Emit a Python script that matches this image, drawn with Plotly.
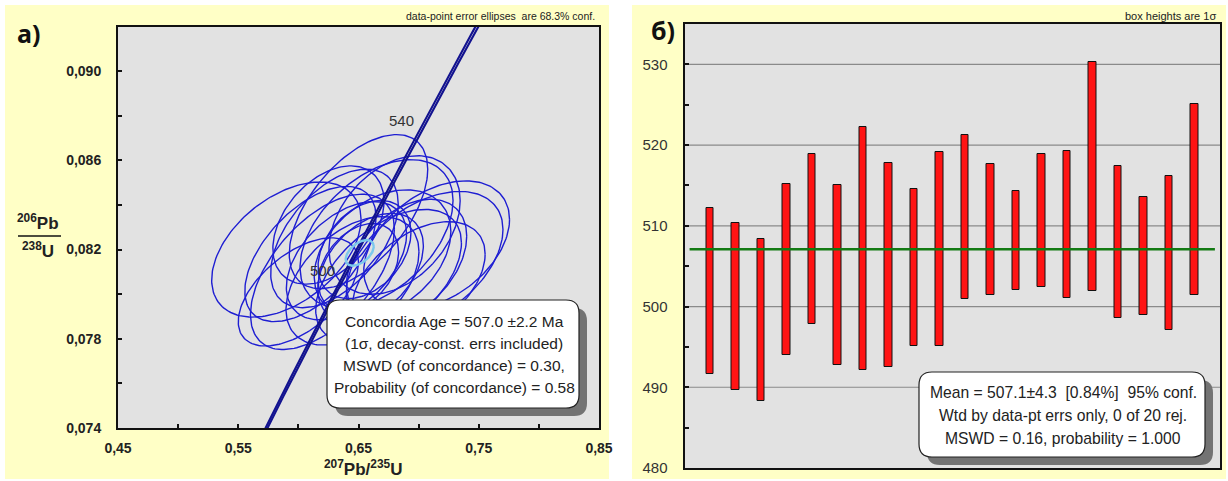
import numpy as np
import plotly.graph_objects as go

W, H = 1228, 481

# ---------------- data: panel a) concordia ----------------
# 207Pb/235U centres, 206Pb/238U centres, 1-sigma errors and error correlations
ell_x = [0.590, 0.650, 0.715, 0.705, 0.680, 0.640, 0.620, 0.655, 0.660, 0.630,
         0.670, 0.610, 0.690, 0.645, 0.675, 0.625, 0.700, 0.600, 0.665, 0.650]
ell_y = [0.0820, 0.0837, 0.0822, 0.0815, 0.0831, 0.0815, 0.0810, 0.0820, 0.0812, 0.0825,
         0.0818, 0.0818, 0.0815, 0.0806, 0.0808, 0.0831, 0.0806, 0.0801, 0.0827, 0.0812]
ell_sx = [0.0410, 0.0380, 0.0400, 0.0430, 0.0360, 0.0330, 0.0395, 0.0255, 0.0290, 0.0350,
          0.0375, 0.0360, 0.0330, 0.0365, 0.0400, 0.0305, 0.0365, 0.0330, 0.0420, 0.0220]
ell_sy = [0.00200, 0.00228, 0.00190, 0.00205, 0.00205, 0.00175, 0.00230, 0.00145, 0.00160, 0.00205,
          0.00190, 0.00200, 0.00182, 0.00190, 0.00198, 0.00175, 0.00175, 0.00160, 0.00220, 0.00130]
ell_rho = [0.45, 0.55, 0.40, 0.45, 0.35, 0.45, 0.55, 0.35, 0.40, 0.50,
           0.35, 0.55, 0.40, 0.45, 0.50, 0.40, 0.45, 0.55, 0.45, 0.35]

conc_age_x, conc_age_y = 0.6510, 0.08185          # concordia-age ellipse
conc_age_sx, conc_age_sy, conc_age_rho = 0.0077, 0.00038, 0.5

LAMBDA_238 = 1.55125e-10
LAMBDA_235 = 9.8485e-10
LAMBDA_235_REL_ERR = 0.0012
concordia_ages_ma = [440, 460, 480, 500, 520, 540, 560, 580]
concordia_labels = [500, 540]

x_tickvals = [0.45, 0.55, 0.65, 0.75, 0.85]
x_ticktext = ["0,45", "0,55", "0,65", "0,75", "0,85"]
x_minor = [0.50, 0.60, 0.70, 0.80]
y_tickvals = [0.074, 0.078, 0.082, 0.086, 0.090]
y_ticktext = ["0,074", "0,078", "0,082", "0,086", "0,090"]
y_minor = [0.076, 0.080, 0.084, 0.088]

# ---------------- data: panel б) weighted mean ----------------
spot = list(range(1, 21))
box_top = [512.2, 510.4, 508.4, 515.2, 518.9, 515.0, 522.3, 517.8, 514.5, 519.1,
           521.3, 517.6, 514.3, 518.9, 519.3, 530.3, 517.4, 513.6, 516.2, 525.1]
box_bottom = [491.6, 489.7, 488.3, 494.0, 497.9, 492.8, 492.2, 492.5, 495.1, 495.1,
              500.9, 501.4, 502.0, 502.4, 501.0, 501.9, 498.6, 498.9, 497.1, 501.4]
wmean = 507.1
r_tickvals = [480, 490, 500, 510, 520, 530]
r_minor = [485, 495, 505, 515, 525]

K68 = 1.515  # 68.3% 2-D confidence scale


def ellipse(cx, cy, sx, sy, rho, n=160):
    t = np.linspace(0, 2 * np.pi, n)
    x = cx + K68 * sx * np.cos(t)
    y = cy + K68 * sy * (rho * np.cos(t) + np.sqrt(1 - rho ** 2) * np.sin(t))
    return x, y


def conc(ages, lam235):
    a = np.array(ages, dtype=float) * 1e6
    return np.exp(lam235 * a) - 1, np.exp(LAMBDA_238 * a) - 1


fig = go.Figure()

# ellipses
ex, ey = [], []
for i in range(len(ell_x)):
    x, y = ellipse(ell_x[i], ell_y[i], ell_sx[i], ell_sy[i], ell_rho[i])
    ex += list(x) + [None]
    ey += list(y) + [None]
fig.add_trace(go.Scatter(x=ex, y=ey, mode="lines", line=dict(color="#1e1ed2", width=1.4),
                         xaxis="x", yaxis="y", hoverinfo="skip", showlegend=False))

# concordia envelope (two lines)
ages_fine = np.linspace(concordia_ages_ma[0], concordia_ages_ma[-1], 200)
for s in (-1, 1):
    cx, cy = conc(ages_fine, LAMBDA_235 * (1 + s * LAMBDA_235_REL_ERR))
    fig.add_trace(go.Scatter(x=cx, y=cy, mode="lines", line=dict(color="#12128f", width=2.1),
                             xaxis="x", yaxis="y", hoverinfo="skip", showlegend=False))

# concordia-age ellipse
x, y = ellipse(conc_age_x, conc_age_y, conc_age_sx, conc_age_sy, conc_age_rho)
fig.add_trace(go.Scatter(x=x, y=y, mode="lines", line=dict(color="#7cc8ec", width=2.4),
                         xaxis="x", yaxis="y", hoverinfo="skip", showlegend=False))

# bars
fig.add_trace(go.Bar(x=spot, y=[t - b for t, b in zip(box_top, box_bottom)], base=box_bottom,
                     width=0.3, marker=dict(color="#ff1414", line=dict(color="#111111", width=1)),
                     xaxis="x2", yaxis="y2", hoverinfo="skip", showlegend=False))
fig.add_trace(go.Scatter(x=[0.2, 20.8], y=[wmean, wmean], mode="lines",
                         line=dict(color="#137a13", width=2.6),
                         xaxis="x2", yaxis="y2", hoverinfo="skip", showlegend=False))


def px(x):
    return x / W


def py(y):
    return 1 - y / H


def rrect_path(x0, y0, x1, y1, r):
    pts = [
        ("M", [(x0 + r, y0)]), ("L", [(x1 - r, y0)]), ("Q", [(x1, y0), (x1, y0 + r)]),
        ("L", [(x1, y1 - r)]), ("Q", [(x1, y1), (x1 - r, y1)]), ("L", [(x0 + r, y1)]),
        ("Q", [(x0, y1), (x0, y1 - r)]), ("L", [(x0, y0 + r)]), ("Q", [(x0, y0), (x0 + r, y0)]),
    ]
    s = ""
    for cmd, ps in pts:
        s += cmd + " " + " ".join(f"{px(a):.5f},{py(b):.5f}" for a, b in ps) + " "
    return s + "Z"


shapes = []
# yellow panels
for (x0, y0, x1, y1) in [(5, 5, 609, 479), (632, 5, 1226, 479)]:
    shapes.append(dict(type="rect", xref="paper", yref="paper", x0=px(x0), x1=px(x1),
                       y0=py(y1), y1=py(y0), fillcolor="#ffffc6", line=dict(width=0), layer="below"))
# grey plot areas
for (x0, y0, x1, y1) in [(118, 26.5, 599, 428), (684.5, 24, 1220, 468)]:
    shapes.append(dict(type="rect", xref="paper", yref="paper", x0=px(x0), x1=px(x1),
                       y0=py(y1), y1=py(y0), fillcolor="#e2e2e2", line=dict(width=0), layer="below"))
# text boxes with shadows
for (x0, y0, x1, y1) in [(327, 300, 579, 408), (919, 372, 1205, 457)]:
    shapes.append(dict(type="path", xref="paper", yref="paper", path=rrect_path(x0 + 8, y0 + 8, x1 + 8, y1 + 8, 13),
                       fillcolor="#737373", line=dict(width=0), layer="above"))
    shapes.append(dict(type="path", xref="paper", yref="paper", path=rrect_path(x0, y0, x1, y1, 13),
                       fillcolor="white", line=dict(color="#222222", width=1.2), layer="above"))
# fraction bar for y title
shapes.append(dict(type="line", xref="paper", yref="paper", x0=px(18), x1=px(61), y0=py(236), y1=py(236),
                   line=dict(color="#111111", width=1.6)))

ann = []
TXT = "Liberation Sans, Arial, sans-serif"


def add_text(x, y, text, size, bold=False, color="#222222", xanchor="center", family=TXT):
    ann.append(dict(x=px(x), y=py(y), xref="paper", yref="paper", text=(f"<b>{text}</b>" if bold else text),
                    showarrow=False, xanchor=xanchor, yanchor="middle",
                    font=dict(size=size, color=color, family=family)))


add_text(28, 33, "a)", 25, bold=True, color="#111111", family="Noto Sans, sans-serif")
add_text(663, 30, "б)", 25, bold=True, color="#111111", family="Noto Sans, sans-serif")
add_text(597, 16, "data-point error ellipses  are 68.3% conf.", 10.5, xanchor="right")
add_text(1218, 16, "box heights are 1σ", 11, xanchor="right")
add_text(38, 222, "<sup>206</sup>Pb", 17, bold=True)
add_text(38, 250, "<sup>238</sup>U", 17, bold=True)
add_text(363, 468, "<sup>207</sup>Pb/<sup>235</sup>U", 17, bold=True)

nb = "\u00a0"
left_lines = ["Concordia Age = 507.0 ±2.2 Ma", "(1σ, decay-const. errs included)",
              "MSWD (of concordance) = 0.30,", "Probability (of concordance) = 0.58"]
for i, t in enumerate(left_lines):
    add_text(454, 321 + 22 * i, t, 15.5)
right_lines = [f"Mean{nb}=\u00a0507.1±4.3{nb}{nb}[0.84%]{nb}{nb}95% conf.", "Wtd by data-pt errs only, 0 of 20 rej.",
               "MSWD = 0.16, probability = 1.000"]
for i, t in enumerate(right_lines):
    add_text(1063, 392 + 23 * i, t, 15.7)

# concordia age labels
lx, ly = conc(concordia_labels, LAMBDA_235)
for a, xx, yy in zip(concordia_labels, lx, ly):
    ann.append(dict(x=xx, y=yy, xref="x", yref="y", text=str(a), showarrow=False,
                    xshift=-20, yshift=9, font=dict(size=15, color="#333333", family=TXT)))

axis_common = dict(showline=True, linecolor="#111111", linewidth=2, mirror=True, zeroline=False,
                   ticks="inside", ticklen=4, tickwidth=1.5, tickcolor="#111111", showgrid=False,
                   automargin=False)

fig.update_layout(
    width=W, height=H, margin=dict(l=0, r=0, t=0, b=0, pad=0, autoexpand=False),
    paper_bgcolor="white", plot_bgcolor="rgba(0,0,0,0)",
    shapes=shapes, annotations=ann, showlegend=False, bargap=0,
    xaxis=dict(domain=[118 / W, 599 / W], range=[0.45, 0.85], anchor="y",
               tickvals=x_tickvals, ticktext=["<b>" + t + "</b>" for t in x_ticktext],
               minor=dict(tickvals=x_minor, ticks="inside", ticklen=4, tickwidth=1.5, tickcolor="#111111"),
               tickfont=dict(size=14, family=TXT, color="#222222"), ticklabelstandoff=6,
               **axis_common),
    yaxis=dict(domain=[1 - 428 / H, 1 - 26.5 / H], range=[0.074, 0.092], anchor="x",
               tickvals=y_tickvals, ticktext=["<b>" + t + "</b>" for t in y_ticktext],
               minor=dict(tickvals=y_minor, ticks="inside", ticklen=4, tickwidth=1.5, tickcolor="#111111"),
               tickfont=dict(size=14, family=TXT, color="#222222"), ticklabelstandoff=12,
               **axis_common),
    xaxis2=dict(domain=[684.5 / W, 1220 / W], range=[0, 21], anchor="y2", showgrid=False,
                showticklabels=False, showline=True, linecolor="#111111", linewidth=2, mirror=True,
                zeroline=False, ticks="", automargin=False),
    yaxis2=dict(domain=[1 - 468 / H, 1 - 24 / H], range=[480, 535], anchor="x2",
                tickvals=r_tickvals, ticktext=[str(v) for v in r_tickvals],
                minor=dict(tickvals=r_minor, ticks="inside", ticklen=4, tickwidth=1.5, tickcolor="#111111"),
                tickfont=dict(size=15, family=TXT, color="#333333"), ticklabelstandoff=12,
                **axis_common),
)

# grid lines on right panel (at labelled values)
for v in r_tickvals[1:]:
    fig.add_shape(type="line", xref="x2", yref="y2", x0=0, x1=21, y0=v, y1=v,
                  line=dict(color="#8a8a8a", width=1.2), layer="below")

fig.write_html("out.html")
